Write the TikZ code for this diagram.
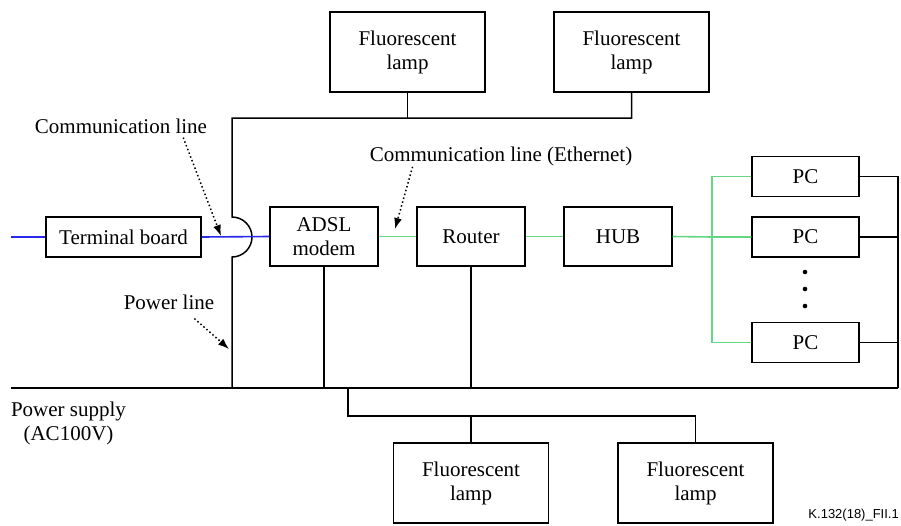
\documentclass[tikz,border=0pt]{standalone}
\usepackage{fontspec}
\setmainfont{Liberation Serif}
\newfontfamily\figsans{Liberation Sans}
\usetikzlibrary{arrows.meta}
\definecolor{commblue}{RGB}{40,40,235}
\definecolor{ethgreen}{RGB}{100,215,130}

\begin{document}
\begin{tikzpicture}[x=1pt,y=-1pt]
\tikzset{
box/.style = {rectangle,draw,
              line width=1.4pt,
              align=center,
              inner sep=0pt,
              font=\fontsize{21}{24}\selectfont},
lamp/.style = {box,
               minimum width=155pt,
               minimum height=80pt},
device/.style = {box,
                 minimum width=108pt,
                 minimum height=59pt},
pcbox/.style = {box,
                minimum width=107pt,
                minimum height=40pt},
lbl/.style = {inner sep=0pt,
              align=center,
              font=\fontsize{21}{24}\selectfont},
pwr/.style = {draw, line width=1.5pt},
comm/.style = {draw=commblue, line width=1.6pt},
eth/.style = {draw=ethgreen, line width=1.6pt},
note/.style = {line width=1.5pt, dash pattern=on 1.5pt off 2.5pt,
               -{Latex[length=11pt,width=8pt]}}
}
\useasboundingbox (0,0) rectangle (901,525);

\node[lamp]   (lampA)  at (407.5,52)  {Fluorescent\\lamp};
\node[lamp]   (lampB)  at (631.5,52)  {Fluorescent\\lamp};
\node[lamp]   (lampC)  at (471,483)   {Fluorescent\\lamp};
\node[lamp]   (lampD)  at (695.5,483) {Fluorescent\\lamp};
\node[box, minimum width=155pt, minimum height=40pt] (term) at (123.5,237) {Terminal board};
\node[device] (modem)  at (324,236.5) {ADSL\\modem};
\node[device] (router) at (471,236.5) {Router};
\node[device] (hub)    at (618,236.5) {HUB};
\node[pcbox]  (pc1)    at (805.5,176.5) {PC};
\node[pcbox]  (pc2)    at (805.5,237)   {PC};
\node[pcbox]  (pc3)    at (805.5,342.5) {PC};
\foreach \y in {272,289,306}
  \fill (805,\y) circle (2.3pt);

\coordinate (busL)   at (11,388);
\coordinate (busR)   at (898,388);
\coordinate (feed)   at (232,388);
\coordinate (hopB)   at (232,257);
\coordinate (hopR)   at (252,237);
\coordinate (hopT)   at (232,217);
\coordinate (topL)   at (232,118);
\coordinate (lineIn) at (11,237);
\coordinate (sw)     at (712,237);
\coordinate (tap)    at (348,388);
\coordinate (lowbus) at (348,416);

% power wiring
\draw[pwr] (busL) -- (busR);
\draw[pwr] (feed) -- (hopB) .. controls +(11,0) and +(0,11) .. (hopR)
           .. controls +(0,-11) and +(11,0) .. (hopT) -- (topL) -| (lampB.south);
\draw[pwr] (lampA.south) -- (lampA.south |- topL);
\draw[pwr] (modem.south) -- (modem.south |- busL);
\draw[pwr] (router.south) -- (router.south |- busL);
\draw[pwr] (pc1.east) -| (busR);
\draw[pwr] (pc2.east) -- (pc2.east -| busR);
\draw[pwr] (pc3.east) -- (pc3.east -| busR);
\draw[pwr] (tap) -- (lowbus) -| (lampD.north);
\draw[pwr] (lampC.north) -- (lampC.north |- lowbus);

% communication lines
\draw[comm] (lineIn) -- (term.west);
\draw[comm] (term.east) -- (modem.west);
\draw[eth] (modem.east) -- (router.west);
\draw[eth] (router.east) -- (hub.west);
\draw[eth] (hub.east) -- (sw) -- (pc2.west);
\draw[eth] (pc1.west) -| (sw) |- (pc3.west);

% labels
\node[lbl] (commlbl) at (121,126) {Communication line};
\node[lbl] (pwrlbl)  at (169,302) {Power line};
\node[lbl] (ethlbl)  at (501,156) {Communication line (Ethernet)};
\node[lbl] (supply)  at (68.5,423) {Power supply\\(AC100V)};
\node[font=\figsans\fontsize{13}{15}\selectfont, anchor=east, inner sep=0pt] (figid) at (899,515) {K.132(18)\_FII.1};

\coordinate (commtip) at (221,236);
\coordinate (pwrtip)  at (229,349);
\coordinate (ethtip)  at (395,229);
\draw[note] ([xshift=-24pt,yshift=-4pt]commlbl.south east) -- (commtip);
\draw[note] ([xshift=-20pt,yshift=-9pt]pwrlbl.south east) -- (pwrtip);
\draw[note] ([xshift=43pt,yshift=-1pt]ethlbl.south west) -- (ethtip);
\end{tikzpicture}
\end{document}
